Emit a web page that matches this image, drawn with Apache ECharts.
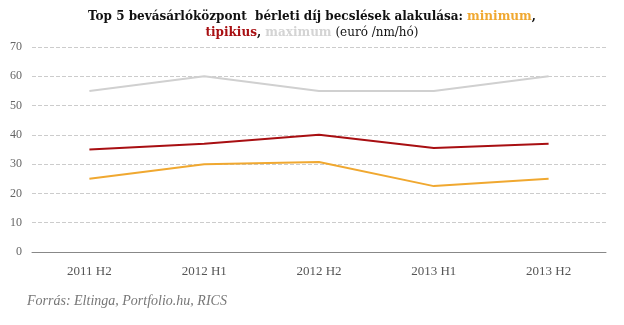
<!DOCTYPE html>
<html><head><meta charset="utf-8">
<script src="https://cdn.jsdelivr.net/npm/echarts@6/dist/echarts.min.js"></script>
<style>html,body{margin:0;padding:0;background:#fff}#c{width:624px;height:325px}</style>
</head><body><div id="c"></div>
<script>
const categories = ['2011 H2', '2012 H1', '2012 H2', '2013 H1', '2013 H2'];
const minimumValues = [25, 30, 30.7, 22.5, 25];
const typicalValues = [35, 37, 40, 35.5, 37];
const maximumValues = [55, 60, 55, 55, 60];
const yTicks = [0, 10, 20, 30, 40, 50, 60, 70];

const serif = '"Liberation Serif", "DejaVu Serif", serif';
const tSerif = '"DejaVu Serif", serif';
const chart = echarts.init(document.getElementById('c'), null, {renderer: 'canvas'});
chart.setOption({
  animation: false,
  title: [{
    text: '{b|Top 5 bevásárlóközpont  bérleti díj becslések alakulása: }{o|minimum}{b|,}\n{r|tipikius}{b|, }{g|maximum}{n| (euró /nm/hó)}',
    left: 'center', top: 4,
    textStyle: {
      fontFamily: tSerif, fontSize: 12, lineHeight: 16,
      rich: {
        b: {fontFamily: tSerif, fontSize: 12, fontWeight: 'bold', color: '#111', lineHeight: 16},
        o: {fontFamily: tSerif, fontSize: 12, fontWeight: 'bold', color: '#f0a830', lineHeight: 16},
        r: {fontFamily: tSerif, fontSize: 12, fontWeight: 'bold', color: '#a80f12', lineHeight: 16},
        g: {fontFamily: tSerif, fontSize: 12, fontWeight: 'bold', color: '#d4d4d4', lineHeight: 16},
        n: {fontFamily: tSerif, fontSize: 12, fontWeight: 'normal', color: '#111', lineHeight: 16}
      }
    }
  }, {
    text: 'Forrás: Eltinga, Portfolio.hu, RICS',
    left: 22, top: 289,
    textStyle: {fontFamily: serif, fontSize: 14, fontStyle: 'italic', fontWeight: 'normal', color: '#777'}
  }],
  grid: {left: 32, right: 18, top: 47, bottom: 73},
  xAxis: {
    type: 'category', data: categories, boundaryGap: true,
    axisLine: {lineStyle: {color: '#888', width: 1}},
    axisTick: {show: false},
    axisLabel: {fontFamily: serif, fontSize: 13, color: '#555', margin: 13}
  },
  yAxis: {
    type: 'value', min: 0, max: 70, interval: 10,
    axisLine: {show: false}, axisTick: {show: false},
    axisLabel: {fontFamily: serif, fontSize: 12, color: '#666', margin: 10,
      formatter: v => yTicks.includes(v) ? String(v) : ''},
    splitLine: {lineStyle: {color: '#ccc', type: 'dashed', width: 1}}
  },
  series: [
    {name: 'maximum', type: 'line', data: maximumValues, symbol: 'none', lineStyle: {color: '#d0d0d0', width: 2}},
    {name: 'tipikius', type: 'line', data: typicalValues, symbol: 'none', lineStyle: {color: '#a80f12', width: 2}},
    {name: 'minimum', type: 'line', data: minimumValues, symbol: 'none', lineStyle: {color: '#f0a830', width: 2}}
  ]
});
</script></body></html>
